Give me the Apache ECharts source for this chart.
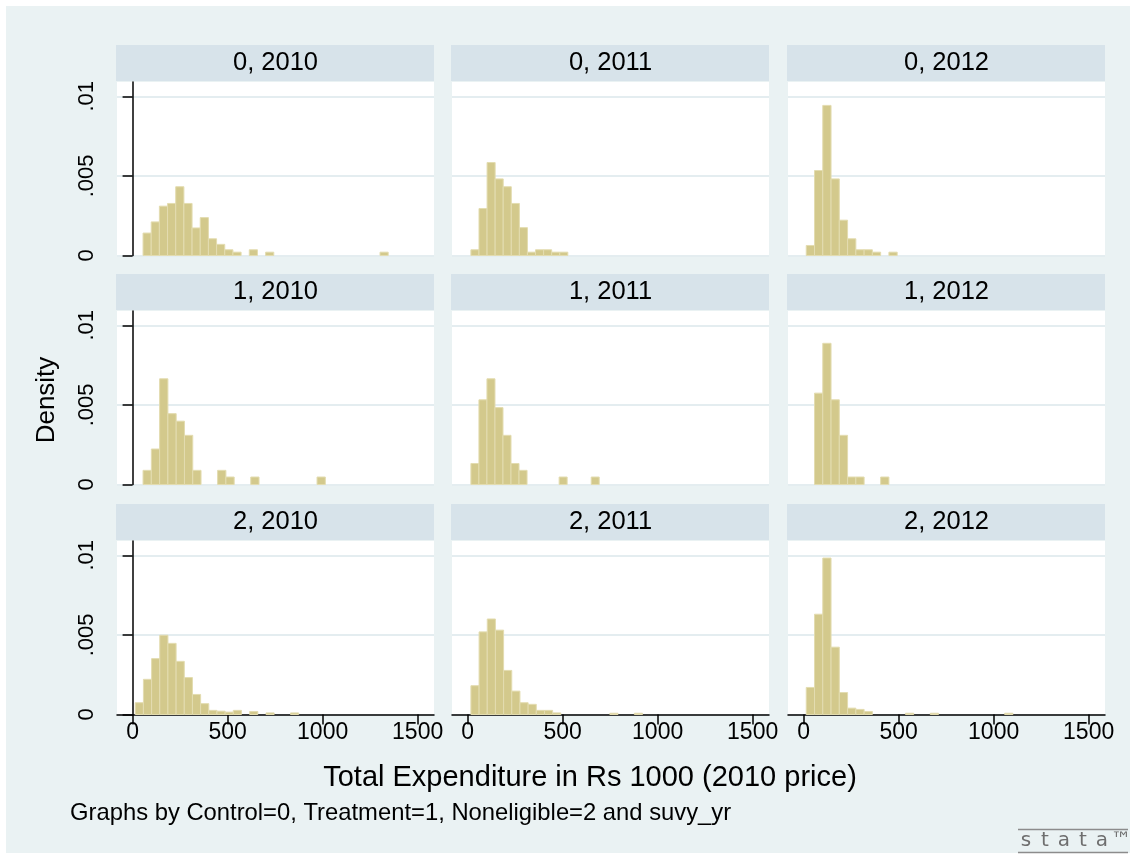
<!DOCTYPE html>
<html><head><meta charset="utf-8">
<script src="https://cdn.jsdelivr.net/npm/echarts@6/dist/echarts.min.js"></script>
<style>html,body{margin:0;padding:0;background:#fff}#c{width:1132px;height:855px}</style>
</head><body><div id="c"></div>
<script>
// ---------- data ----------
const groups = ['0', '1', '2'];
const years = ['2010', '2011', '2012'];
const xTicks = [0, 500, 1000, 1500];
const xTickLabels = ['0', '500', '1000', '1500'];
const yTicks = [0, 0.005, 0.01];
const yTickLabels = ['0', '.005', '.01'];
const xTitle = 'Total Expenditure in Rs 1000 (2010 price)';
const yTitle = 'Density';
const note = 'Graphs by Control=0, Treatment=1, Noneligible=2 and suvy_yr';

// histogram bin start and width (Rs 1000) per panel [group][year]
const binStart = [[55, 17.5, 14], [55, 17.5, 14], [14, 17.5, 14]];
const binWidth = [[43, 42.5, 43.5], [43.6, 42.2, 43.5], [43, 43, 43.5]];

// densities per bin
const d_0_2010 = [.00141, .00211, .0031, .00327, .00432, .00327, .00173, .00238, .00105, .0007, .00036, .00021, 0, .00036, 0, .00021,
  0, 0, 0, 0, 0, 0, 0, 0, 0, 0, 0, 0, 0, .00021];
const d_0_2011 = [.00036, .00295, .00584, .00481, .00432, .00327, .00175, .00021, .00036, .00036, .00021, .00021];
const d_0_2012 = [.00063, .00534, .00943, .00481, .00222, .00105, .00036, .00036, .00021, 0, .00021];
const d_1_2010 = [.00089, .00223, .00664, .00445, .00398, .00309, .00089, 0, 0, .00089, .00047, 0, 0, .00047,
  0, 0, 0, 0, 0, 0, 0, .00047];
const d_1_2011 = [.00132, .00532, .00664, .00483, .00309, .00132, .00089, 0, 0, 0, 0, .00047, 0, 0, 0, .00047];
const d_1_2012 = [0, .00574, .00887, .00532, .00309, .00047, .00047, 0, 0, .00047];
const d_2_2010 = [.00074, .00221, .00351, .00498, .00447, .00334, .00232, .00126, .00068, .00026, .00021, .00015, .00026, 0,
  .00019, 0, .0001, 0, 0, .0001];
const d_2_2011 = [.00181, .00519, .006, .0053, .00277, .00147, .00074, .00064, .00026, .00026, .0001, 0, 0, 0, 0, 0, 0,
  .00008, 0, 0, .00008];
const d_2_2012 = [.0017, .0063, .00983, .00423, .00138, .0004, .00032, .00019, 0, 0, 0, 0, .00008, 0, 0, .00008,
  0, 0, 0, 0, 0, 0, 0, 0, .00008];
const densities = [[d_0_2010, d_0_2011, d_0_2012], [d_1_2010, d_1_2011, d_1_2012], [d_2_2010, d_2_2011, d_2_2012]];

// ---------- layout / style ----------
const colLeft = [117, 452, 788];
const plotW = 317;
const rowTop = [82, 311, 541];
const plotH = 173.5;
const headerH = 36;
const xMin = -82, xMax = 1586, yMax = 0.0109;
const BG = '#eaf2f3';
const HEADER = '#d7e3ea';
const GRIDC = '#e4edf0';
const BAR = '#d3c98c';
const BAR_EDGE = '#e3dcb0';
const FONT = '"Liberation Sans", Arial, sans-serif';

const grid = [], xAxis = [], yAxis = [], series = [];
const graphic = [
  { type: 'rect', z: -10, shape: { x: 6, y: 6, width: 1132 - 8, height: 855 - 8 }, style: { fill: BG } }
];

let idx = 0;
for (let r = 0; r < 3; r++) {
  for (let c = 0; c < 3; c++) {
    grid.push({ left: colLeft[c], top: rowTop[r], width: plotW, height: plotH, show: true,
      backgroundColor: '#fff', borderWidth: 0 });
    const bottomRow = r === 2, leftCol = c === 0;
    xAxis.push({
      type: 'value', gridIndex: idx, min: xMin, max: xMax,
      splitLine: { show: false },
      axisLine: { show: bottomRow, onZero: false, lineStyle: { color: '#000', width: 1.5 } },
      axisTick: { show: bottomRow, length: 10, inside: false, customValues: xTicks, lineStyle: { color: '#000', width: 1.5 } },
      axisLabel: { show: bottomRow, customValues: xTicks, fontSize: 23, color: '#000', fontFamily: FONT, margin: 7,
        formatter: v => { const i = xTicks.findIndex(t => Math.abs(t - v) < 1e-6); return i >= 0 ? xTickLabels[i] : ''; } }
    });
    yAxis.push({
      type: 'value', gridIndex: idx, min: 0, max: yMax,
      splitLine: { show: true, lineStyle: { color: GRIDC, width: 2 } },
      axisLine: { show: leftCol, lineStyle: { color: '#000', width: 1.5 } },
      axisTick: { show: leftCol, length: 10, customValues: yTicks, lineStyle: { color: '#000', width: 1.5 } },
      axisLabel: { show: leftCol, customValues: yTicks, rotate: 90, fontSize: 22, color: '#000', fontFamily: FONT, margin: 19,
        formatter: v => { const i = yTicks.findIndex(t => Math.abs(t - v) < 1e-9); return i >= 0 ? yTickLabels[i] : ''; } }
    });
    const st = binStart[r][c], w = binWidth[r][c];
    const data = [];
    densities[r][c].forEach((d, i) => { if (d > 0) data.push([st + i * w, st + (i + 1) * w, d]); });
    series.push({
      type: 'custom', xAxisIndex: idx, yAxisIndex: idx, data: data, silent: true,
      encode: { x: [0, 1], y: 2 },
      renderItem: (params, api) => {
        const p0 = api.coord([api.value(0), 0]);
        const p1 = api.coord([api.value(1), api.value(2)]);
        return { type: 'rect', shape: { x: p0[0], y: p1[1], width: p1[0] - p0[0], height: p0[1] - p1[1] },
          style: { fill: BAR, stroke: BAR_EDGE, lineWidth: 1 } };
      }
    });
    graphic.push({ type: 'rect', shape: { x: colLeft[c] - 1, y: rowTop[r] - headerH - 1, width: plotW + 1, height: headerH },
      style: { fill: HEADER } });
    graphic.push({ type: 'text', x: colLeft[c] + plotW / 2, y: rowTop[r] - headerH / 2 - 1,
      style: { text: groups[r] + ', ' + years[c], fontSize: 25.5, fontFamily: FONT, fill: '#000',
        align: 'center', verticalAlign: 'middle', textAlign: 'center', textVerticalAlign: 'middle' } });
    idx++;
  }
}

graphic.push({ type: 'text', x: 47, y: 400, rotation: Math.PI / 2,
  style: { text: yTitle, fontSize: 26, fontFamily: FONT, fill: '#000', align: 'center', verticalAlign: 'middle',
    textAlign: 'center', textVerticalAlign: 'middle' } });
graphic.push({ type: 'text', x: 590, y: 778,
  style: { text: xTitle, fontSize: 29, fontFamily: FONT, fill: '#000', align: 'center', verticalAlign: 'middle',
    textAlign: 'center', textVerticalAlign: 'middle' } });
graphic.push({ type: 'text', x: 70, y: 813,
  style: { text: note, fontSize: 23.8, fontFamily: FONT, fill: '#000', align: 'left', verticalAlign: 'middle',
    textAlign: 'left', textVerticalAlign: 'middle' } });
// stata logo
graphic.push({ type: 'line', shape: { x1: 1018, y1: 829.5, x2: 1128, y2: 829.5 }, style: { stroke: '#8c8c8c', lineWidth: 1.5 } });
graphic.push({ type: 'line', shape: { x1: 1018, y1: 852.5, x2: 1128, y2: 852.5 }, style: { stroke: '#8c8c8c', lineWidth: 1.5 } });
const logoChars = ['s', 't', 'a', 't', 'a', '™'];
logoChars.forEach((ch, i) => {
  graphic.push({ type: 'text', x: 1026 + i * 19, y: 841,
    style: { text: ch, fontSize: 20, fontFamily: '"DejaVu Sans", sans-serif', fill: '#6e6e6e', align: 'center',
      verticalAlign: 'middle', textAlign: 'center', textVerticalAlign: 'middle' } });
});

const chart = echarts.init(document.getElementById('c'));
chart.setOption({ backgroundColor: '#fff', animation: false, grid, xAxis, yAxis, series, graphic });
</script>
</body></html>
